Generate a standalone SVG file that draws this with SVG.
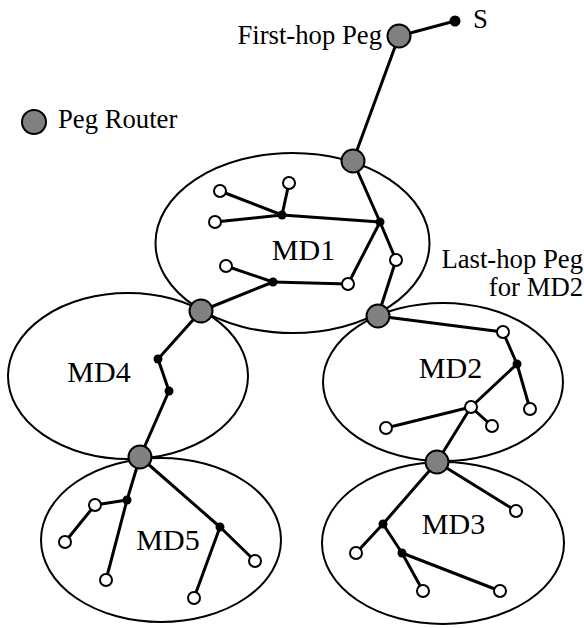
<svg xmlns="http://www.w3.org/2000/svg" width="584" height="628" viewBox="0 0 584 628">
  <style>
    .domain { fill: none; stroke: #000; stroke-width: 2; }
    .edge { stroke: #000; stroke-width: 3; stroke-linecap: round; fill: none; }
    .peg { fill: #808080; stroke: #000; stroke-width: 2; }
    .host { fill: #fff; stroke: #000; stroke-width: 2; }
    .relay { fill: #000; }
    .lbl { font-family: "Liberation Serif", "Times New Roman", serif; font-size: 26.7px; fill: #000; }
    .md { font-family: "Liberation Serif", "Times New Roman", serif; font-size: 30px; fill: #000; text-anchor: middle; }
  </style>
  <rect width="584" height="628" fill="#fff"/>

  <!-- multicast domains -->
  <g id="MD1"><ellipse class="domain" cx="292.5" cy="243" rx="137" ry="90"/><text class="md" x="303.5" y="260">MD1</text></g>
  <g id="MD4"><ellipse class="domain" cx="128" cy="376" rx="120" ry="83"/><text class="md" x="99" y="382">MD4</text></g>
  <g id="MD2"><ellipse class="domain" cx="443" cy="382" rx="120" ry="79"/><text class="md" x="450.5" y="378">MD2</text></g>
  <g id="MD5"><ellipse class="domain" cx="161" cy="540" rx="120" ry="82"/><text class="md" x="168" y="550">MD5</text></g>
  <g id="MD3"><ellipse class="domain" cx="443" cy="543" rx="121" ry="81"/><text class="md" x="453.5" y="534">MD3</text></g>

  <!-- links -->
  <g id="connectors" class="edge">
    <line x1="455" y1="21" x2="399" y2="36"/>
    <line x1="399" y1="36" x2="353" y2="161"/>
    <!-- MD1 -->
    <line x1="353" y1="161" x2="380" y2="222"/>
    <line x1="380" y1="222" x2="282" y2="215"/>
    <line x1="282" y1="215" x2="220" y2="191"/>
    <line x1="282" y1="215" x2="289" y2="183"/>
    <line x1="282" y1="215" x2="215" y2="222"/>
    <line x1="380" y1="222" x2="348" y2="284"/>
    <line x1="380" y1="222" x2="396" y2="260"/>
    <line x1="396" y1="260" x2="378" y2="316"/>
    <line x1="273" y1="282" x2="226" y2="266"/>
    <line x1="273" y1="282" x2="348" y2="284"/>
    <line x1="273" y1="282" x2="201" y2="311"/>
    <!-- MD4 -->
    <polyline points="201,311 158,359 169,391 140,457"/>
    <!-- MD2 -->
    <line x1="378" y1="316" x2="503" y2="332"/>
    <line x1="503" y1="332" x2="517" y2="364"/>
    <line x1="517" y1="364" x2="530" y2="409"/>
    <line x1="517" y1="364" x2="471" y2="407"/>
    <line x1="471" y1="407" x2="386" y2="428"/>
    <line x1="471" y1="407" x2="492" y2="426"/>
    <line x1="471" y1="407" x2="437" y2="462"/>
    <!-- MD5 -->
    <line x1="140" y1="457" x2="127" y2="500"/>
    <line x1="127" y1="500" x2="95" y2="505"/>
    <line x1="95" y1="505" x2="65" y2="542"/>
    <line x1="127" y1="500" x2="106" y2="580"/>
    <line x1="140" y1="457" x2="220" y2="527"/>
    <line x1="220" y1="527" x2="255" y2="561"/>
    <line x1="220" y1="527" x2="194" y2="598"/>
    <!-- MD3 -->
    <line x1="437" y1="462" x2="516" y2="511"/>
    <line x1="437" y1="462" x2="383" y2="524"/>
    <line x1="383" y1="524" x2="356" y2="553"/>
    <line x1="383" y1="524" x2="402" y2="553"/>
    <line x1="402" y1="553" x2="423" y2="591"/>
    <line x1="402" y1="553" x2="500" y2="591"/>
  </g>

  <!-- source and peg routers -->
  <g id="S"><circle class="relay" cx="455" cy="21" r="5.5"/><text class="lbl" x="473" y="28">S</text></g>
  <g id="peg-first-hop"><circle class="peg" cx="399" cy="36" r="11.5"/><text class="lbl" x="382" y="44" text-anchor="end">First-hop Peg</text></g>
  <g id="peg-md1"><circle class="peg" cx="353" cy="161" r="11.5"/></g>
  <g id="peg-md1-md4"><circle class="peg" cx="201" cy="311" r="11.5"/></g>
  <g id="peg-md1-md2"><circle class="peg" cx="378" cy="316" r="11.5"/></g>
  <g id="peg-md4-md5"><circle class="peg" cx="140" cy="457" r="11.5"/></g>
  <g id="peg-md2-md3"><circle class="peg" cx="437" cy="462" r="11.5"/></g>

  <!-- inner relay routers -->
  <g id="r1a"><circle class="relay" cx="282" cy="215" r="4.5"/></g>
  <g id="r1b"><circle class="relay" cx="380" cy="222" r="4.5"/></g>
  <g id="r1c"><circle class="relay" cx="273" cy="282" r="4.5"/></g>
  <g id="r4a"><circle class="relay" cx="158" cy="359" r="4.5"/></g>
  <g id="r4b"><circle class="relay" cx="169" cy="391" r="4.5"/></g>
  <g id="r2a"><circle class="relay" cx="517" cy="364" r="4.5"/></g>
  <g id="r5a"><circle class="relay" cx="127" cy="500" r="4.5"/></g>
  <g id="r5b"><circle class="relay" cx="220" cy="527" r="4.5"/></g>
  <g id="r3a"><circle class="relay" cx="383" cy="524" r="4.5"/></g>
  <g id="r3b"><circle class="relay" cx="402" cy="553" r="4.5"/></g>

  <!-- member hosts -->
  <g id="h1a"><circle class="host" cx="220" cy="191" r="6"/></g>
  <g id="h1b"><circle class="host" cx="289" cy="183" r="6"/></g>
  <g id="h1c"><circle class="host" cx="215" cy="222" r="6"/></g>
  <g id="h1d"><circle class="host" cx="226" cy="266" r="6"/></g>
  <g id="h1e"><circle class="host" cx="348" cy="284" r="6"/></g>
  <g id="h1f"><circle class="host" cx="396" cy="260" r="6"/></g>
  <g id="h2a"><circle class="host" cx="503" cy="332" r="6"/></g>
  <g id="h2b"><circle class="host" cx="530" cy="409" r="6"/></g>
  <g id="h2c"><circle class="host" cx="471" cy="407" r="6"/></g>
  <g id="h2d"><circle class="host" cx="386" cy="428" r="6"/></g>
  <g id="h2e"><circle class="host" cx="492" cy="426" r="6"/></g>
  <g id="h5a"><circle class="host" cx="95" cy="505" r="6"/></g>
  <g id="h5b"><circle class="host" cx="65" cy="542" r="6"/></g>
  <g id="h5c"><circle class="host" cx="106" cy="580" r="6"/></g>
  <g id="h5d"><circle class="host" cx="255" cy="561" r="6"/></g>
  <g id="h5e"><circle class="host" cx="194" cy="598" r="6"/></g>
  <g id="h3a"><circle class="host" cx="516" cy="511" r="6"/></g>
  <g id="h3b"><circle class="host" cx="356" cy="553" r="6"/></g>
  <g id="h3c"><circle class="host" cx="423" cy="591" r="6"/></g>
  <g id="h3d"><circle class="host" cx="500" cy="591" r="6"/></g>

  <!-- annotations -->
  <g id="last-hop-label">
    <text class="lbl" x="583" y="268" text-anchor="end">Last-hop Peg</text>
    <text class="lbl" x="583" y="296" text-anchor="end">for MD2</text>
  </g>
  <g id="legend">
    <circle class="peg" cx="34" cy="122" r="12"/>
    <text class="lbl" x="58" y="128">Peg Router</text>
  </g>
</svg>
